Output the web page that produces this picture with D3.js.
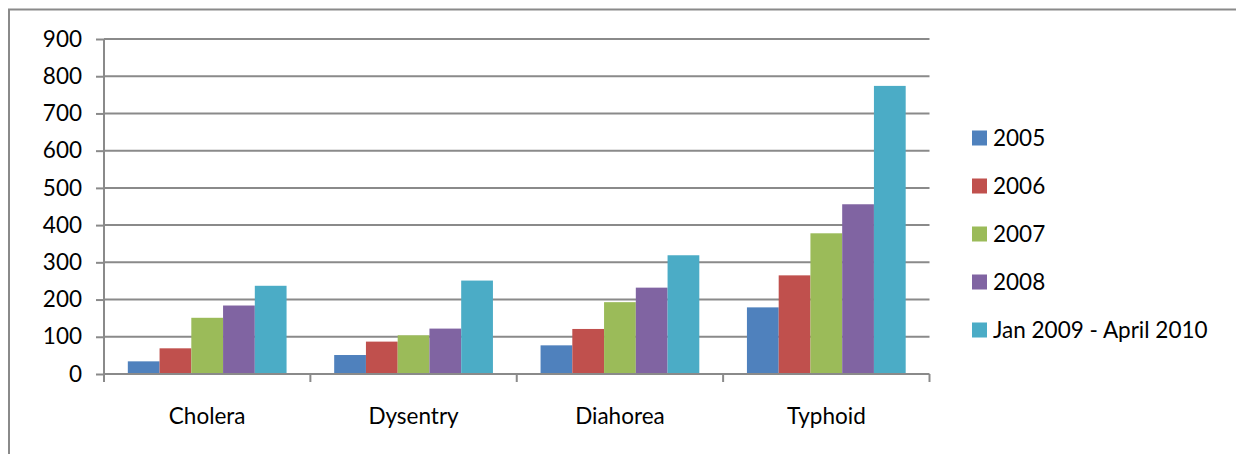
<!DOCTYPE html>
<html>
<head>
<meta charset="utf-8">
<script src="https://cdn.jsdelivr.net/npm/d3@7"></script>
<style>
  html, body { margin: 0; padding: 0; background: #fff; }
  svg { display: block; font-family: Lato, "Open Sans", sans-serif; }
</style>
</head>
<body>
<svg id="chart" width="1236" height="454"></svg>
<script>
// Reported cases per disease and period
const diseases = ["Cholera", "Dysentry", "Diahorea", "Typhoid"];
const periods = ["2005", "2006", "2007", "2008", "Jan 2009 - April 2010"];
const cases2005 = [34, 51, 77, 179];
const cases2006 = [69, 87, 121, 265];
const cases2007 = [151, 104, 193, 378];
const cases2008 = [184, 122, 232, 456];
const cases2009to2010 = [237, 251, 319, 774];
const yTicks = [0, 100, 200, 300, 400, 500, 600, 700, 800, 900];
const colors = ["#4F81BD", "#C0504D", "#9BBB59", "#8064A2", "#4BACC6"];

const seriesValues = [cases2005, cases2006, cases2007, cases2008, cases2009to2010];

const svg = d3.select("#chart");
const grey = "#8a8a8a";
const fontSize = "22.5px";

// Chart frame
svg.append("path")
  .attr("d", "M9,460 L9,9.5 L1240,9.5")
  .attr("fill", "none")
  .attr("stroke", grey)
  .attr("stroke-width", 2);

const plot = { left: 104, right: 929.5, top: 39, bottom: 374 };

const x0 = d3.scaleBand()
  .domain(diseases)
  .range([plot.left, plot.right])
  .paddingInner(0)
  .paddingOuter(0);

// Gap between groups is 1.5 bar widths, split evenly on both sides
const x1 = d3.scaleBand()
  .domain(periods)
  .range([0, x0.bandwidth()])
  .paddingInner(0)
  .paddingOuter(0.75);

const y = d3.scaleLinear()
  .domain([0, 900])
  .range([plot.bottom, plot.top]);

// Horizontal gridlines
svg.append("g")
  .selectAll("line")
  .data(yTicks.filter(t => t > 0))
  .join("line")
  .attr("x1", plot.left)
  .attr("x2", plot.right)
  .attr("y1", d => y(d))
  .attr("y2", d => y(d))
  .attr("stroke", grey)
  .attr("stroke-width", 2);

// Bars
const groups = svg.append("g")
  .selectAll("g")
  .data(diseases)
  .join("g")
  .attr("transform", d => `translate(${x0(d)},0)`);

groups.selectAll("rect")
  .data((d, i) => periods.map((p, s) => ({ period: p, value: seriesValues[s][i], s })))
  .join("rect")
  .attr("x", d => x1(d.period))
  .attr("width", x1.bandwidth())
  .attr("y", d => y(d.value))
  .attr("height", d => y(0) - y(d.value))
  .attr("fill", d => colors[d.s]);

// Y axis
const yAxis = svg.append("g")
  .attr("transform", `translate(${plot.left},0)`)
  .call(d3.axisLeft(y).tickValues(yTicks).tickSize(8).tickPadding(14));
yAxis.select(".domain").attr("stroke", grey).attr("stroke-width", 2)
  .attr("d", `M0,${plot.top}V${plot.bottom}`);
yAxis.selectAll(".tick line").attr("stroke", grey).attr("stroke-width", 2);
yAxis.selectAll(".tick text")
  .attr("fill", "#000")
  .style("font-size", fontSize)
  .style("font-family", "Lato, 'Open Sans', sans-serif");

// X axis with tick marks at category boundaries
const xAxisG = svg.append("g")
  .attr("transform", `translate(0,${plot.bottom})`);
xAxisG.append("line")
  .attr("x1", plot.left)
  .attr("x2", plot.right)
  .attr("stroke", grey)
  .attr("stroke-width", 2);
const boundaries = diseases.map(d => x0(d)).concat([x0(diseases[diseases.length - 1]) + x0.bandwidth()]);
xAxisG.selectAll("line.b")
  .data(boundaries)
  .join("line")
  .attr("class", "b")
  .attr("x1", d => d)
  .attr("x2", d => d)
  .attr("y1", 0)
  .attr("y2", 8)
  .attr("stroke", grey)
  .attr("stroke-width", 2);
xAxisG.selectAll("text")
  .data(diseases)
  .join("text")
  .attr("x", d => x0(d) + x0.bandwidth() / 2)
  .attr("y", 50)
  .attr("text-anchor", "middle")
  .attr("fill", "#000")
  .style("font-size", fontSize)
  .text(d => d);

// Legend
const legend = svg.append("g")
  .attr("transform", "translate(972,138)");
const item = legend.selectAll("g")
  .data(periods)
  .join("g")
  .attr("transform", (d, i) => `translate(0,${i * 48})`);
item.append("rect")
  .attr("x", 0)
  .attr("y", -7.5)
  .attr("width", 15)
  .attr("height", 15)
  .attr("fill", (d, i) => colors[i]);
item.append("text")
  .attr("x", 21)
  .attr("y", 0)
  .attr("dy", "0.36em")
  .attr("fill", "#000")
  .style("font-size", fontSize)
  .text(d => d);
</script>
</body>
</html>
